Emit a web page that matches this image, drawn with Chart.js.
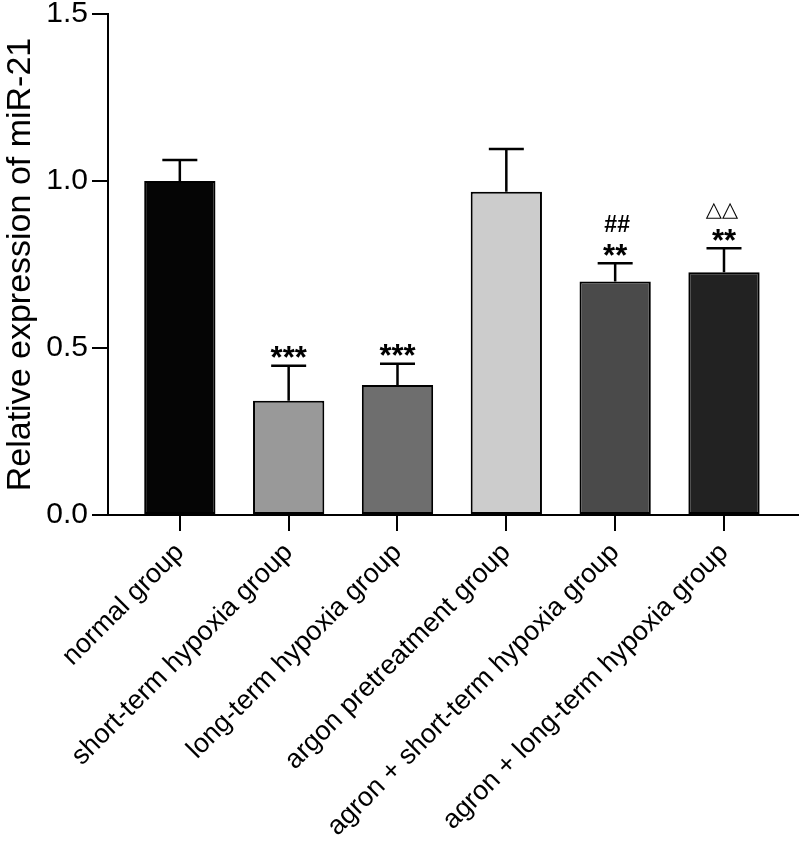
<!DOCTYPE html>
<html>
<head>
<meta charset="utf-8">
<script src="https://cdn.jsdelivr.net/npm/chart.js@4.4.1/dist/chart.umd.min.js"></script>
<style>
  html, body { margin: 0; padding: 0; background: #fff; }
  #wrap { width: 800px; height: 853px; }
</style>
</head>
<body>
<div id="wrap"><canvas id="chart"></canvas></div>
<script>
const groups = [
  "normal group",
  "short-term hypoxia group",
  "long-term hypoxia group",
  "argon pretreatment group",
  "agron + short-term hypoxia group",
  "agron + long-term hypoxia group",
];
const means = [1.0, 0.342, 0.389, 0.968, 0.699, 0.727];
const errors = [0.063, 0.105, 0.064, 0.128, 0.055, 0.072];
const stars = ["", "***", "***", "", "**", "**"];
const hashes = ["", "", "", "", "##", ""];
const triangles = ["", "", "", "", "", "\u25B3\u25B3"];
const barColors = ["#050505", "#999999", "#6e6e6e", "#cccccc", "#4a4a4a", "#222222"];
const yTicks = [0, 0.5, 1.0, 1.5];

const FONT = "'Liberation Sans', Arial, Helvetica, sans-serif";

// error bars + significance marks
const extras = {
  id: "extras",
  afterDatasetsDraw(chart) {
    const { ctx, scales: { x, y } } = chart;
    ctx.save();
    ctx.strokeStyle = "#000";
    ctx.lineWidth = 2.5;
    ctx.fillStyle = "#000";
    ctx.textAlign = "center";
    ctx.textBaseline = "middle";
    means.forEach((m, i) => {
      const cx = x.getPixelForValue(i);
      const top = y.getPixelForValue(m);
      const et = y.getPixelForValue(m + errors[i]);
      ctx.beginPath();
      ctx.moveTo(cx, top);
      ctx.lineTo(cx, et);
      ctx.moveTo(cx - 17.5, et);
      ctx.lineTo(cx + 17.5, et);
      ctx.stroke();

      if (stars[i]) {
        ctx.font = "bold 31px " + FONT;
        ctx.fillText(stars[i], cx, et - 6);
      }
      if (hashes[i]) {
        ctx.font = "bold 23px " + FONT;
        ctx.fillText(hashes[i], cx + 2, et - 38);
      }
      if (triangles[i]) {
        ctx.font = "21px 'DejaVu Sans', " + FONT;
        ctx.fillText(triangles[i], cx - 2, et - 38);
      }
    });
    ctx.restore();
  },
};

new Chart(document.getElementById("chart"), {
  type: "bar",
  data: {
    datasets: [{
      data: means.map((v, i) => ({ x: i, y: v })),
      backgroundColor: barColors,
      borderColor: "#000",
      borderWidth: 2,
      borderSkipped: false,
      barPercentage: 0.655,
      categoryPercentage: 1,
    }],
  },
  options: {
    responsive: true,
    maintainAspectRatio: false,
    animation: false,
    layout: { padding: { top: 14, right: 2, left: 0, bottom: 0 } },
    plugins: { legend: { display: false }, tooltip: { enabled: false } },
    scales: {
      x: {
        type: "linear",
        offset: false,
        min: -0.66,
        max: 5.68,
        afterBuildTicks(scale) {
          scale.ticks = groups.map((_, i) => ({ value: i }));
        },
        afterFit(scale) { scale.height = 338; },
        ticks: {
          minRotation: 45,
          maxRotation: 45,
          color: "#000",
          font: { family: FONT, size: 27 },
          padding: 6,
          callback: (v) => groups[v],
        },
        grid: { offset: false, drawOnChartArea: false, color: "#000", lineWidth: 2, tickLength: 16 },
        border: { color: "#000", width: 2 },
      },
      y: {
        min: 0,
        max: 1.5,
        afterBuildTicks(scale) {
          scale.ticks = yTicks.map((v) => ({ value: v }));
        },
        afterFit(scale) {
          scale.width = 108;
          scale.paddingTop = 0;
          scale.paddingBottom = 0;
        },
        ticks: {
          color: "#000",
          font: { family: FONT, size: 30 },
          padding: 4,
          callback: (v) => v.toFixed(1),
        },
        title: {
          display: true,
          text: "Relative expression of miR-21",
          color: "#000",
          font: { family: FONT, size: 34 },
          padding: { top: 0, bottom: 2 },
        },
        grid: { drawOnChartArea: false, color: "#000", lineWidth: 2, tickLength: 16 },
        border: { color: "#000", width: 2 },
      },
    },
  },
  plugins: [extras],
});
</script>
</body>
</html>
